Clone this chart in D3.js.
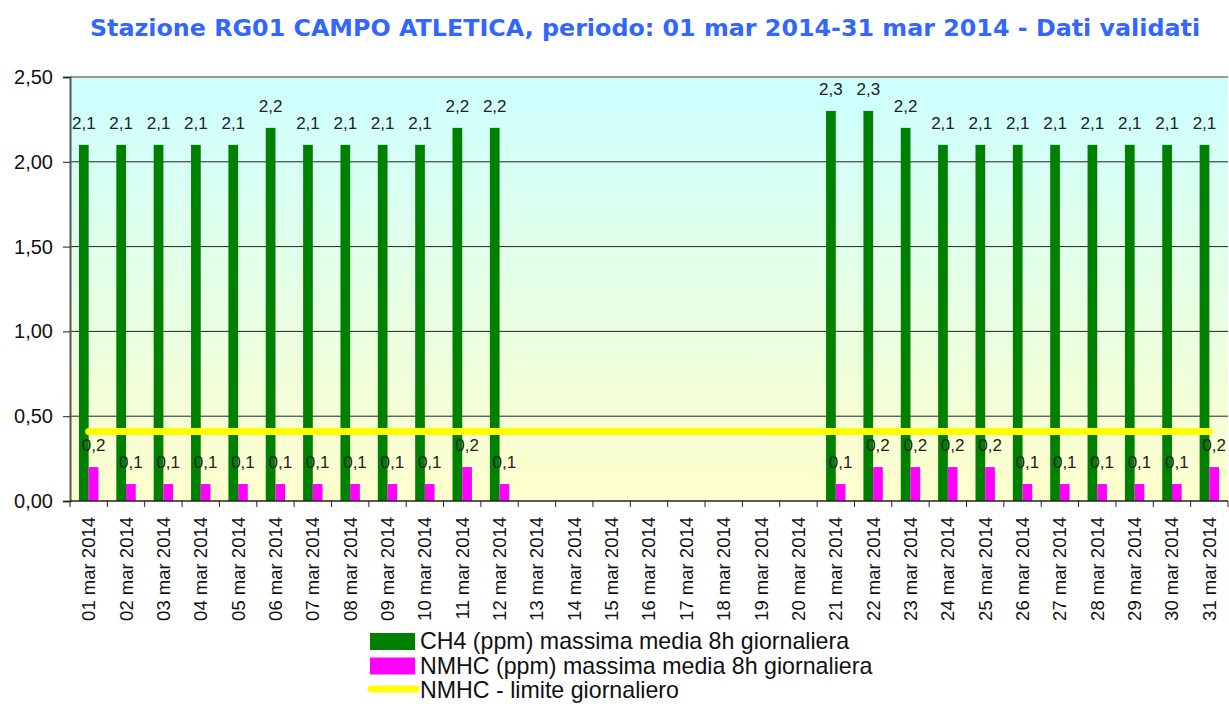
<!DOCTYPE html>
<html>
<head>
<meta charset="utf-8">
<script src="https://cdn.jsdelivr.net/npm/d3@7/dist/d3.min.js"></script>
<style>
  body { margin: 0; background: #fff; }
  svg { display: block; }
</style>
</head>
<body>
<div id="chart"></div>
<script>
// ----------------------------------------
// DATA

var days = ["01 mar 2014", "02 mar 2014", "03 mar 2014", "04 mar 2014", "05 mar 2014",
  "06 mar 2014", "07 mar 2014", "08 mar 2014", "09 mar 2014", "10 mar 2014",
  "11 mar 2014", "12 mar 2014", "13 mar 2014", "14 mar 2014", "15 mar 2014",
  "16 mar 2014", "17 mar 2014", "18 mar 2014", "19 mar 2014", "20 mar 2014",
  "21 mar 2014", "22 mar 2014", "23 mar 2014", "24 mar 2014", "25 mar 2014",
  "26 mar 2014", "27 mar 2014", "28 mar 2014", "29 mar 2014", "30 mar 2014",
  "31 mar 2014"];

var ch4 = [2.1, 2.1, 2.1, 2.1, 2.1, 2.2, 2.1, 2.1, 2.1, 2.1, 2.2, 2.2,
  null, null, null, null, null, null, null, null,
  2.3, 2.3, 2.2, 2.1, 2.1, 2.1, 2.1, 2.1, 2.1, 2.1, 2.1];

var nmhc = [0.2, 0.1, 0.1, 0.1, 0.1, 0.1, 0.1, 0.1, 0.1, 0.1, 0.2, 0.1,
  null, null, null, null, null, null, null, null,
  0.1, 0.2, 0.2, 0.2, 0.2, 0.1, 0.1, 0.1, 0.1, 0.1, 0.2];

var nmhcLimit = 0.41;

var yTicks = [0, 0.5, 1, 1.5, 2, 2.5];

var legendLabels = ["CH4 (ppm) massima media 8h giornaliera",
  "NMHC (ppm) massima media 8h giornaliera",
  "NMHC - limite giornaliero"];

var title = "Stazione RG01 CAMPO ATLETICA, periodo: 01 mar 2014-31 mar 2014 - Dati validati";

// ----------------------------------------
// LAYOUT

var width = 1229;
var height = 704;
var plot = { left: 70, right: 1228, top: 77, bottom: 501 };

var svg = d3.select("#chart").append("svg")
  .attr("width", width)
  .attr("height", height);

var defs = svg.append("defs");
var grad = defs.append("linearGradient")
  .attr("id", "bg")
  .attr("x1", 0).attr("y1", 0).attr("x2", 0).attr("y2", 1);
grad.append("stop").attr("offset", "0%").attr("stop-color", "#ccffff");
grad.append("stop").attr("offset", "100%").attr("stop-color", "#ffffcc");

// scales
var x = d3.scaleBand().domain(days).range([plot.left, plot.right]).padding(0);
var xSeries = d3.scaleBand().domain(["ch4", "nmhc"])
  .range([0, x.bandwidth()]).paddingInner(0).paddingOuter(0.925);
var y = d3.scaleLinear().domain([0, 2.5]).range([plot.bottom, plot.top]);

var fmt = function (v, digits) { return d3.format("." + digits + "f")(v).replace(".", ","); };

// title
svg.append("text")
  .attr("x", 645)
  .attr("y", 36)
  .attr("text-anchor", "middle")
  .attr("font-family", "'DejaVu Sans', Verdana, sans-serif")
  .attr("font-weight", "bold")
  .attr("font-size", 23.8)
  .attr("fill", "#3366ff")
  .text(title);

// plot background
svg.append("rect")
  .attr("x", plot.left)
  .attr("y", plot.top)
  .attr("width", plot.right - plot.left)
  .attr("height", plot.bottom - plot.top)
  .attr("fill", "url(#bg)");

// gridlines
svg.append("g")
  .selectAll("line")
  .data(yTicks.filter(function (d) { return d > 0 && d < 2.5; }))
  .enter().append("line")
  .attr("x1", plot.left).attr("x2", plot.right)
  .attr("y1", function (d) { return y(d); })
  .attr("y2", function (d) { return y(d); })
  .attr("stroke", "#222")
  .attr("stroke-width", 1);

// top border
svg.append("line")
  .attr("x1", plot.left).attr("x2", plot.right)
  .attr("y1", plot.top).attr("y2", plot.top)
  .attr("stroke", "#999").attr("stroke-width", 2);

// bars
var bars = svg.append("g");
bars.selectAll("rect.ch4")
  .data(days.filter(function (d, i) { return ch4[i] != null; }))
  .enter().append("rect")
  .attr("class", "ch4")
  .attr("x", function (d) { return x(d) + xSeries("ch4"); })
  .attr("width", xSeries.bandwidth())
  .attr("y", function (d) { return y(ch4[days.indexOf(d)]); })
  .attr("height", function (d) { return plot.bottom - y(ch4[days.indexOf(d)]); })
  .attr("fill", "#008000");

bars.selectAll("rect.nmhc")
  .data(days.filter(function (d, i) { return nmhc[i] != null; }))
  .enter().append("rect")
  .attr("class", "nmhc")
  .attr("x", function (d) { return x(d) + xSeries("nmhc"); })
  .attr("width", xSeries.bandwidth())
  .attr("y", function (d) { return y(nmhc[days.indexOf(d)]); })
  .attr("height", function (d) { return plot.bottom - y(nmhc[days.indexOf(d)]); })
  .attr("fill", "#ff00ff");

// limit line
var limitLine = d3.line()
  .x(function (d) { return x(d) + x.bandwidth() / 2; })
  .y(function () { return y(nmhcLimit); });

svg.append("path")
  .attr("d", limitLine(days))
  .attr("fill", "none")
  .attr("stroke", "#ffff00")
  .attr("stroke-width", 7)
  .attr("stroke-linecap", "round");

// value labels
var labels = svg.append("g")
  .attr("font-family", "'Liberation Sans', Arial, sans-serif")
  .attr("font-size", 17)
  .attr("fill", "#222")
  .attr("text-anchor", "middle");

days.forEach(function (d, i) {
  if (ch4[i] != null) {
    labels.append("text")
      .attr("x", x(d) + xSeries("ch4") + xSeries.bandwidth() / 2)
      .attr("y", y(ch4[i]) - 16)
      .text(fmt(ch4[i], 1));
  }
  if (nmhc[i] != null) {
    labels.append("text")
      .attr("x", x(d) + xSeries("nmhc") + xSeries.bandwidth() / 2)
      .attr("y", y(nmhc[i]) - 16)
      .text(fmt(nmhc[i], 1));
  }
});

// y axis
var yAxis = svg.append("g")
  .attr("transform", "translate(" + plot.left + ",0)")
  .call(d3.axisLeft(y).tickValues(yTicks).tickSize(7).tickPadding(10)
    .tickFormat(function (d) { return fmt(d, 2); }));
yAxis.select(".domain").attr("stroke", "#555").attr("stroke-width", 2);
yAxis.selectAll(".tick line").attr("stroke", "#222");
yAxis.selectAll(".tick text")
  .attr("font-family", "'Liberation Sans', Arial, sans-serif")
  .attr("font-size", 20)
  .attr("fill", "#111");

// x axis baseline and boundary ticks
svg.append("line")
  .attr("x1", plot.left).attr("x2", plot.right)
  .attr("y1", plot.bottom).attr("y2", plot.bottom)
  .attr("stroke", "#222").attr("stroke-width", 1.5);

svg.append("g")
  .selectAll("line")
  .data(days.concat(["end"]))
  .enter().append("line")
  .attr("x1", function (d) { return d === "end" ? plot.right : x(d); })
  .attr("x2", function (d) { return d === "end" ? plot.right : x(d); })
  .attr("y1", plot.bottom)
  .attr("y2", plot.bottom + 6)
  .attr("stroke", "#222");

svg.append("g")
  .selectAll("text")
  .data(days)
  .enter().append("text")
  .attr("transform", function (d) {
    return "translate(" + (x(d) + x.bandwidth() / 2) + "," + (plot.bottom + 16) + ") rotate(-90)";
  })
  .attr("dy", "0.35em")
  .attr("text-anchor", "end")
  .attr("font-family", "'Liberation Sans', Arial, sans-serif")
  .attr("font-size", 18.5)
  .attr("fill", "#111")
  .text(function (d) { return d; });

// legend
var legend = svg.append("g")
  .attr("font-family", "'Liberation Sans', Arial, sans-serif")
  .attr("font-size", 23.2)
  .attr("fill", "#111");

var legendColors = ["#008000", "#ff00ff", "#ffff00"];
legendLabels.forEach(function (label, i) {
  var baseline = 649 + i * 24.5;
  if (i < 2) {
    legend.append("rect")
      .attr("x", 370).attr("y", baseline - 16)
      .attr("width", 45).attr("height", 17)
      .attr("fill", legendColors[i]);
  } else {
    legend.append("line")
      .attr("x1", 371).attr("x2", 416)
      .attr("y1", baseline - 9).attr("y2", baseline - 9)
      .attr("stroke", legendColors[i])
      .attr("stroke-width", 7)
      .attr("stroke-linecap", "round");
  }
  legend.append("text")
    .attr("x", 420)
    .attr("y", baseline)
    .text(label);
});
</script>
</body>
</html>
